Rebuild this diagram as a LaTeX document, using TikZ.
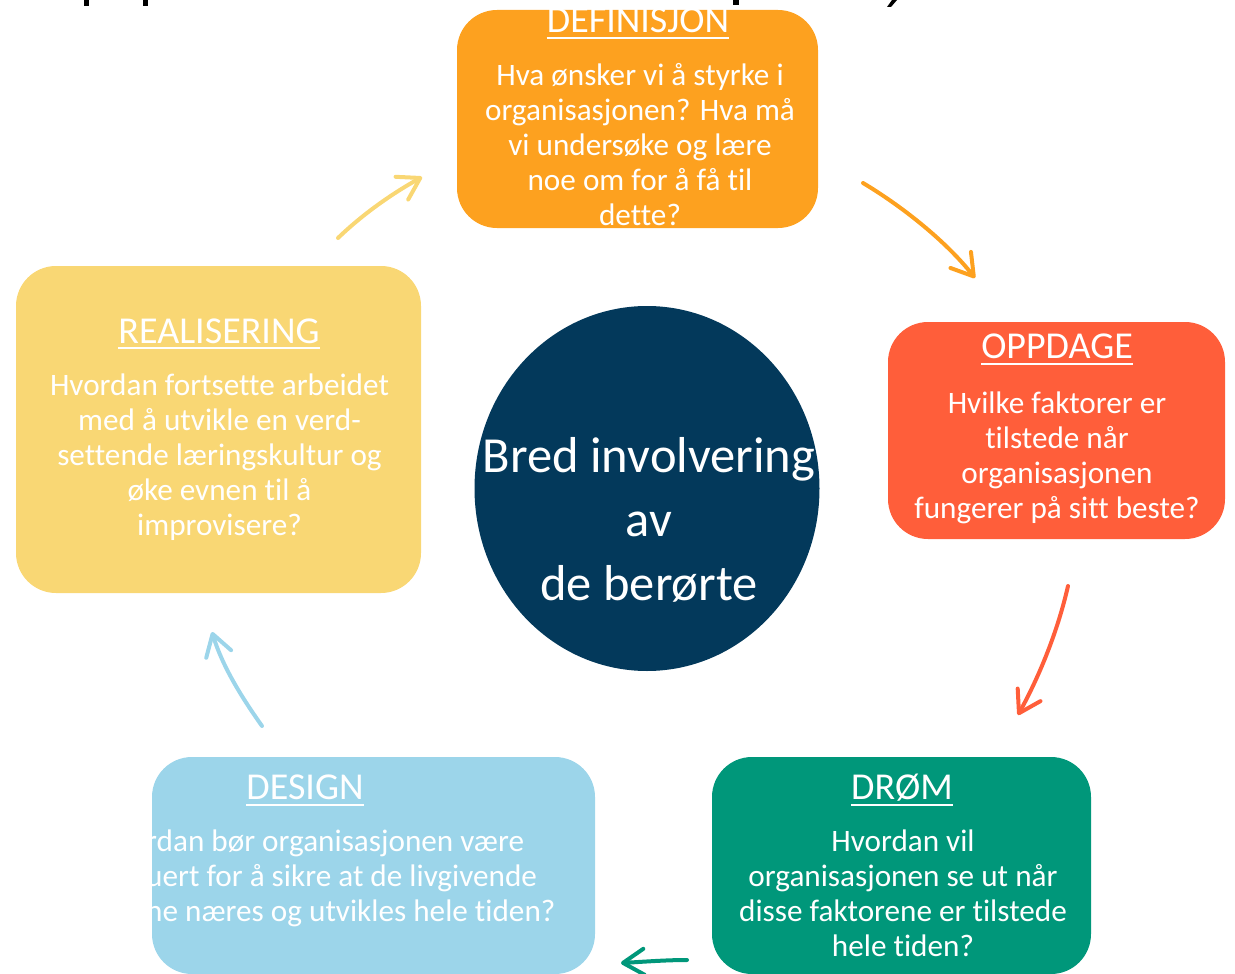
\documentclass[tikz,border=0pt]{standalone}
\usepackage{fontspec}
\setmainfont{Carlito}[Ligatures=NoCommon]
\usetikzlibrary{arrows.meta}
\definecolor{cDef}{HTML}{FDA11F}
\definecolor{cOpp}{HTML}{FF5E3A}
\definecolor{cReal}{HTML}{F9D774}
\definecolor{cDrom}{HTML}{00977A}
\definecolor{cDes}{HTML}{9CD5EA}
\definecolor{cNavy}{HTML}{03395B}
\begin{document}
\begin{tikzpicture}[x=1pt,y=-1pt,
  box/.style={rounded corners=40pt},
  ttl/.style={text=white, inner sep=0pt, anchor=base, font=\fontsize{38}{44}\selectfont},
  body/.style={text=white, inner sep=0pt, anchor=north, align=center, font=\fontsize{31.2}{35}\selectfont},
  frag/.style={text=white, inner sep=0pt, anchor=base west, font=\fontsize{31.2}{35}\selectfont},
  ul/.style={draw=white, line width=2pt},
  arr/.style={line width=4pt, line cap=round, -{Straight Barb[length=21pt,width=26pt,round]}},
  stub/.style={fill=black}
]
\useasboundingbox (0,0) rectangle (1235,974);

% cut-off title fragments at the top
\fill[stub] (84,0) rectangle (89,6);
\fill[stub] (143,0) rectangle (148,6);
\fill[stub] (733,0) rectangle (739,5);
\fill[stub] (892,0) -- (897,0) -- (891,7) -- (887,7) -- cycle;

% boxes
\fill[cDef,box] (457,10) rectangle (818,228);
\fill[cReal,box] (16,266) rectangle (421,593);
\fill[cOpp,box] (888,322) rectangle (1225,539);
\fill[cDes,box] (152,757) rectangle (595,974);
\fill[cDrom,box] (712,757) rectangle (1091,974);

% centre
\fill[cNavy] (647,488.5) ellipse [x radius=172.5, y radius=182.5];
\node[text=white, inner sep=0pt, anchor=north, align=center, font=\fontsize{50.5}{64}\selectfont]
  (center) at (649,427) {\strut Bred involvering\\av\\de berørte};

% DEFINISJON
\node[ttl] (tdef) at (638,33) {DEFINISJON};
\draw[ul] ([yshift=-5pt]tdef.base west) -- ([yshift=-5pt]tdef.base east);
\node[body] (bdef) at (640,60.5) {\strut Hva ønsker vi å styrke i\\organisasjonen? Hva må\\vi undersøke og lære\\noe om for å få til\\dette?};

% REALISERING
\node[ttl] (treal) at (219,343) {REALISERING};
\draw[ul] ([yshift=-5pt]treal.base west) -- ([yshift=-5pt]treal.base east);
\node[body] (breal) at (219.5,370.5) {\strut Hvordan fortsette arbeidet\\med å utvikle en verd-\\settende læringskultur og\\øke evnen til å\\improvisere?};

% OPPDAGE
\node[ttl] (topp) at (1057,358) {OPPDAGE};
\draw[ul] ([yshift=-6pt]topp.base west) -- ([yshift=-6pt]topp.base east);
\node[body] (bopp) at (1057,388.5) {\strut Hvilke faktorer er\\tilstede når\\organisasjonen\\fungerer på sitt beste?};

% DESIGN
\node[ttl] (tdes) at (305,799) {DESIGN};
\draw[ul] ([yshift=-6pt]tdes.base west) -- ([yshift=-6pt]tdes.base east);
\begin{scope}
  \clip[box] (152,757) rectangle (595,974);
  \node[frag] (d1) at (146,851) {rdan bør organisasjonen være};
  \node[frag] (d2) at (146,886) {uert for å sikre at de livgivende};
  \node[frag] (d3) at (146,921) {ne næres og utvikles hele tiden?};
\end{scope}

% DRØM
\node[ttl] (tdrom) at (902,799) {DRØM};
\draw[ul] ([yshift=-6pt]tdrom.base west) -- ([yshift=-6pt]tdrom.base east);
\node[body] (bdrom) at (903,826.5) {\strut Hvordan vil\\organisasjonen se ut når\\disse faktorene er tilstede\\hele tiden?};

% arrows
\coordinate (ya) at (338,238); \coordinate (yb) at (422,177);
\coordinate (oa) at (863,183); \coordinate (ob) at (975,278);
\coordinate (ra) at (1068,586); \coordinate (rb) at (1018,715);
\coordinate (ga) at (687,960); \coordinate (gb) at (621,963);
\coordinate (ba) at (262,726); \coordinate (bb) at (212,632);
\draw[arr, draw=cReal] (ya) .. controls (365,212) and (395,192) .. (yb);
\draw[arr, draw=cDef] (oa) .. controls (900,205) and (945,240) .. (ob);
\draw[arr, draw=cOpp] (ra) .. controls (1058,630) and (1040,675) .. (rb);
\draw[arr, draw=cDrom] (ga) .. controls (665,960) and (640,962) .. (gb);
\draw[arr, draw=cDes] (ba) .. controls (240,695) and (222,665) .. (bb);
\end{tikzpicture}
\end{document}
